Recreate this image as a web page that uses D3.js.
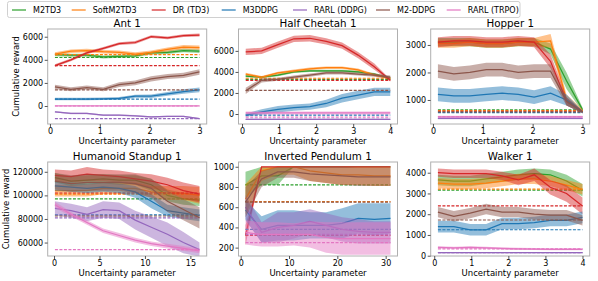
<!DOCTYPE html>
<html><head><meta charset="utf-8">
<script src="https://cdn.jsdelivr.net/npm/d3@7"></script>
<style>body{margin:0;background:#fff;} text{font-family:"DejaVu Sans",sans-serif;fill:#000;}</style>
</head><body><svg id="c" width="598" height="281"></svg>
<script>
// ---------- DATA ----------
const methods = ["M2TD3","SoftM2TD3","DR (TD3)","M3DDPG","RARL (DDPG)","M2-DDPG","RARL (TRPO)"];
const colors = ["#2ca02c","#ff7f0e","#d62728","#1f77b4","#9467bd","#8c564b","#e377c2"];

// Ant 1
const antX = [0.1,0.42,0.74,1.07,1.39,1.71,2.03,2.36,2.68,3.0];
const antMean = [
  [4450,4400,4400,4250,4300,4350,4600,4650,4800,4750],
  [4500,4750,4800,4700,4650,4500,4650,4900,5100,5050],
  [3500,4000,4600,5000,5400,5500,6000,5900,6100,6150],
  [600,600,600,620,650,850,850,1050,1250,1400],
  [-500,-650,-650,-800,-800,-850,-950,-900,-900,-1100],
  [1650,1450,1600,1450,1850,2000,2350,2550,2650,2950],
  [0,0,0,0,0,0,0,0,0,0]];
const antStd = [
  [130,130,130,130,130,130,130,140,150,150],
  [150,150,150,150,150,150,150,170,180,180],
  [120,120,120,120,120,120,120,120,120,120],
  [110,110,110,110,120,130,150,170,190,200],
  [60,60,60,60,60,60,60,60,60,60],
  [180,180,180,180,200,200,220,220,230,240],
  [10,10,10,10,10,10,10,10,10,10]];
const antDash = [4200,4450,3500,600,-1100,1400,0];
const antXTicks = [0,1,2,3];
const antYTicks = [0,2000,4000,6000];

// Half Cheetah 1
const hcX = [0.1,0.53,0.97,1.4,1.83,2.27,2.7,3.13,3.57,4.0];
const hcMean = [
  [3600,3500,3700,4000,4100,4100,4100,4000,3800,3400],
  [3800,3500,3900,4100,4300,4400,4400,4200,3700,3400],
  [5900,6000,6600,7150,7200,6900,6500,5600,4500,3200],
  [-100,200,450,600,700,1000,1500,1800,2100,2100],
  [-500,-500,-500,-500,-500,-500,-500,-500,-500,-500],
  [2200,3200,3300,3500,3700,3900,3900,3800,3700,3500],
  [100,100,100,100,100,100,100,100,100,100]];
const hcStd = [
  [100,100,100,100,100,100,100,100,100,100],
  [120,120,120,120,120,120,120,120,120,120],
  [300,300,300,300,300,300,300,300,300,100],
  [150,250,300,300,300,350,400,400,400,400],
  [40,40,40,40,40,40,40,40,40,40],
  [300,200,150,150,150,150,150,150,150,150],
  [150,150,150,150,150,150,150,150,150,150]];
const hcDash = [3300,3400,3200,-100,-500,2250,-300];
const hcXTicks = [0,1,2,3,4];
const hcYTicks = [0,2000,4000,6000];

// Hopper 1
const hopX = [0.1,0.42,0.74,1.07,1.39,1.71,2.03,2.36,2.68,3.0];
const hopMean = [
  [3100,3100,3100,3050,3050,3100,3100,2850,1700,650],
  [3050,3050,3100,3050,3050,3100,3100,3150,1000,600],
  [3100,3150,3150,3100,3100,3150,3100,2400,950,570],
  [1200,1150,1150,1200,1250,1200,1100,1250,1000,560],
  [330,330,330,330,330,330,330,330,330,330],
  [2050,1950,2000,2100,2100,2000,2050,2050,950,560],
  [390,390,390,390,390,390,390,390,390,390]];
const hopStd = [
  [150,150,150,150,150,150,150,200,300,80],
  [150,150,150,150,150,150,150,250,200,60],
  [180,180,180,180,180,180,180,250,150,40],
  [250,250,250,250,250,250,250,250,200,40],
  [30,30,30,30,30,30,30,30,30,30],
  [250,250,250,250,250,250,250,250,150,40],
  [40,40,40,40,40,40,40,40,40,40]];
const hopDash = [640,610,590,540,330,570,400];
const hopXTicks = [0,1,2,3];
const hopYTicks = [1000,2000,3000];

// Humanoid Standup 1
const humX = [0.1,1.87,3.63,5.4,7.17,8.93,10.7,12.47,14.23,16.0];
const humMean = [
  [115000,112000,113000,114000,113000,113000,109000,100000,97000,96000],
  [104000,104000,104000,106000,106000,106000,103000,102000,102000,100000],
  [117000,116000,118000,117000,116000,114000,112000,109000,104000,101000],
  [108000,107000,106000,107000,106000,103000,95000,87000,85000,83000],
  [89000,87000,84000,88000,87000,79000,73000,67000,60000,54000],
  [112000,110000,111000,111000,111000,110000,106000,95000,88000,81000],
  [92000,84000,77000,70000,66000,62000,59000,57000,55000,53000]];
const humStd = [
  [4000,4000,4000,4000,4000,4000,5000,5000,5000,5000],
  [5000,5000,5000,5000,5000,5000,5000,6000,6000,7000],
  [5000,5000,6000,5000,5000,5000,6000,6000,7000,7000],
  [4000,4000,4000,4000,4000,5000,6000,5000,5000,5000],
  [6000,6000,6000,7000,7000,8000,9000,10000,9000,6000],
  [7000,7000,7000,7000,7000,8000,8000,9000,9000,9000],
  [2500,2000,2000,2000,2000,2000,2000,2000,2000,2000]];
const humDash = [97000,101000,102000,83500,81000,82500,54000];
const humXTicks = [0,5,10,15];
const humYTicks = [60000,80000,100000,120000];

// Inverted Pendulum 1
const ipX = [1,4.33,7.67,11,14.33,17.67,21,24.33,27.67,31];
const ipMean = [
  [820,910,910,1000,1000,1000,1000,1000,1000,1000],
  [680,960,1000,1000,960,940,920,920,910,910],
  [320,1000,1000,1000,1000,1000,1000,1000,1000,1000],
  [570,380,420,420,420,420,440,490,480,490],
  [600,350,400,420,460,420,380,360,350,350],
  [650,880,950,950,930,920,910,900,900,900],
  [350,330,330,330,330,300,290,290,290,290]];
const ipStd = [
  [130,90,90,0,0,0,0,0,0,0],
  [150,100,80,80,100,100,100,100,100,100],
  [100,0,0,0,0,0,0,0,0,0],
  [100,130,150,150,130,130,150,150,160,150],
  [120,100,150,130,120,120,120,120,110,110],
  [150,80,60,60,70,80,90,90,90,90],
  [120,120,120,110,130,150,160,160,160,160]];
const ipDash = [820,655,320,380,330,650,250];
const ipXTicks = [0,10,20,30];
const ipYTicks = [200,400,600,800,1000];

// Walker 1
const wkX = [0.1,0.53,0.97,1.4,1.83,2.27,2.7,3.13,3.57,4.0];
const wkMean = [
  [3650,3600,3600,3700,3800,3900,3950,3900,3600,3150],
  [3500,3450,3450,3500,3600,3700,3700,3600,3400,3200],
  [4000,3950,3950,3950,3850,3650,3900,3300,3000,2400],
  [1400,1400,1250,1250,1550,1550,1600,1700,1700,1850],
  [150,150,150,150,150,150,150,150,150,150],
  [2100,1900,2050,2250,2100,2100,2000,1950,1950,1700],
  [400,380,400,380,350,330,320,310,310,310]];
const wkStd = [
  [250,250,250,250,250,250,250,250,300,300],
  [250,250,250,250,250,250,250,250,250,250],
  [200,200,200,200,200,250,300,350,400,400],
  [280,280,280,280,280,280,280,280,280,280],
  [30,30,30,30,30,30,30,30,30,30],
  [250,250,250,250,250,250,250,250,250,250],
  [50,50,50,50,50,50,50,50,50,50]];
const wkDash = [3160,3210,2400,1250,150,1720,330];
const wkXTicks = [0,1,2,3,4];
const wkYTicks = [0,1000,2000,3000,4000];

const xLabel = "Uncertainty parameter";
const yLabel = "Cumulative reward";

// ---------- LAYOUT ----------
const colX = [47.7, 238.5, 430.7];
const rowY = [29, 162];
const rowH = [95, 94];
const W = 159;

const panels = [
  {title:"Ant 1", x:antX, mean:antMean, std:antStd, dash:antDash, xt:antXTicks, yt:antYTicks, xd:[-0.045,3.145], yd:[-1560,6670], c:0, r:0},
  {title:"Half Cheetah 1", x:hcX, mean:hcMean, std:hcStd, dash:hcDash, xt:hcXTicks, yt:hcYTicks, xd:[-0.095,4.195], yd:[-950,8080], c:1, r:0},
  {title:"Hopper 1", x:hopX, mean:hopMean, std:hopStd, dash:hopDash, xt:hopXTicks, yt:hopYTicks, xd:[-0.045,3.145], yd:[127,3580], c:2, r:0},
  {title:"Humanoid Standup 1", x:humX, mean:humMean, std:humStd, dash:humDash, xt:humXTicks, yt:humYTicks, xd:[-0.695,16.795], yd:[48600,128300], c:0, r:1},
  {title:"Inverted Pendulum 1", x:ipX, mean:ipMean, std:ipStd, dash:ipDash, xt:ipXTicks, yt:ipYTicks, xd:[-0.45,32.45], yd:[117,1047], c:1, r:1, cap:1000},
  {title:"Walker 1", x:wkX, mean:wkMean, std:wkStd, dash:wkDash, xt:wkXTicks, yt:wkYTicks, xd:[-0.095,4.195], yd:[-14,4516], c:2, r:1}
];

const svg = d3.select("#c");

panels.forEach((p, pi) => {
  const left = colX[p.c], top = rowY[p.r], H = rowH[p.r];
  const x = d3.scaleLinear().domain(p.xd).range([left, left + W]);
  const y = d3.scaleLinear().domain(p.yd).range([top + H, top]);
  const g = svg.append("g");
  const clipId = "clip" + pi;
  svg.append("clipPath").attr("id", clipId).append("rect")
    .attr("x", left).attr("y", top).attr("width", W).attr("height", H);
  const plot = g.append("g").attr("clip-path", `url(#${clipId})`);

  const cap = p.cap === undefined ? Infinity : p.cap;
  methods.forEach((m, k) => {
    const pts = p.x.map((xv, i) => ({x: xv, m: p.mean[k][i], s: p.std[k][i]}));
    plot.append("path").datum(pts)
      .attr("d", d3.area().x(d => x(d.x)).y0(d => y(d.m - d.s)).y1(d => y(Math.min(cap, d.m + d.s))))
      .attr("fill", colors[k]).attr("fill-opacity", 0.48).attr("stroke", "none");
    plot.append("path").datum(pts)
      .attr("d", d3.line().x(d => x(d.x)).y(d => y(d.m)))
      .attr("fill", "none").attr("stroke", colors[k]).attr("stroke-width", 1.25);
    plot.append("line")
      .attr("x1", x(p.x[0])).attr("x2", x(p.x[p.x.length - 1]))
      .attr("y1", y(p.dash[k])).attr("y2", y(p.dash[k]))
      .attr("stroke", colors[k]).attr("stroke-width", 1.2).attr("stroke-dasharray", "3,1.5");
  });

  // frame
  g.append("rect").attr("x", left).attr("y", top).attr("width", W).attr("height", H)
    .attr("fill", "none").attr("stroke", "#b0b0b0").attr("stroke-width", 1);

  const xa = g.append("g").attr("transform", `translate(0,${top + H})`)
    .call(d3.axisBottom(x).tickValues(p.xt).tickFormat(d3.format("d")).tickSize(3).tickSizeOuter(0).tickPadding(1.5));
  const ya = g.append("g").attr("transform", `translate(${left},0)`)
    .call(d3.axisLeft(y).tickValues(p.yt).tickFormat(d3.format("d")).tickSize(3).tickSizeOuter(0).tickPadding(1.5));
  [xa, ya].forEach(a => {
    a.select(".domain").remove();
    a.selectAll("line").attr("stroke", "#555");
    a.selectAll("text").attr("font-size", 8).attr("font-family", "DejaVu Sans").attr("fill", "#000");
  });

  g.append("text").attr("x", left + W / 2).attr("y", top - 2).attr("text-anchor", "middle")
    .attr("font-size", 10.3).text(p.title);
  g.append("text").attr("x", left + W / 2).attr("y", top + H + 19.5).attr("text-anchor", "middle")
    .attr("font-size", 8.5).text(xLabel);

  if (p.c === 0) {
    let minX = Infinity;
    ya.selectAll("text").each(function () { minX = Math.min(minX, this.getBBox().x); });
    const lx = left + minX - 3.5;
    g.append("text").attr("transform", `translate(${lx},${top + H / 2}) rotate(-90)`)
      .attr("text-anchor", "middle").attr("font-size", 8.5).text(yLabel);
  }
});

// ---------- LEGEND ----------
const legX = [12, 71.7, 151.7, 221.7, 293, 376, 446.7];
const leg = svg.append("g");
leg.append("rect").attr("x", 7.5).attr("y", 1.5).attr("width", 512.5).attr("height", 16).attr("rx", 2)
  .attr("fill", "#fff").attr("stroke", "#d0d0d0").attr("stroke-width", 1);
methods.forEach((m, k) => {
  leg.append("line").attr("x1", legX[k]).attr("x2", legX[k] + 14).attr("y1", 10).attr("y2", 10)
    .attr("stroke", colors[k]).attr("stroke-width", 1.2);
  leg.append("text").attr("x", legX[k] + 21).attr("y", 12.8).attr("font-size", 8).text(m);
});
</script></body></html>
